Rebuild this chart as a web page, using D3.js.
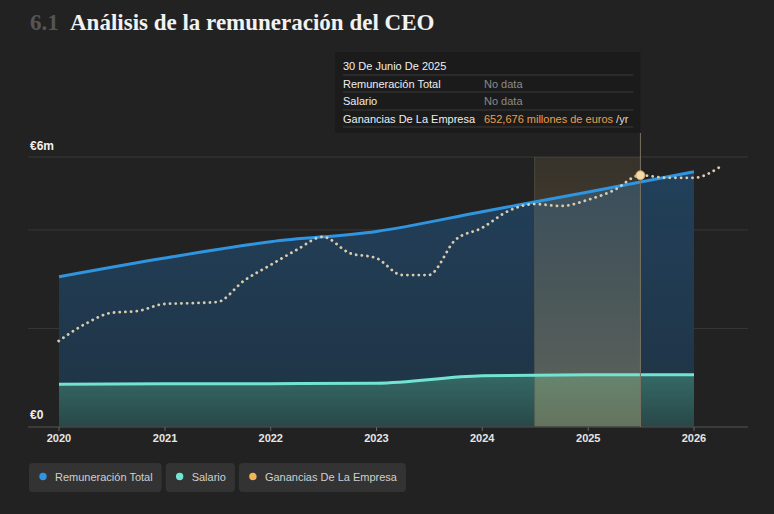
<!DOCTYPE html>
<html lang="es">
<head>
<meta charset="utf-8">
<script src="https://d3js.org/d3.v7.min.js"></script>
<style>
  body, html { margin: 0; padding: 0; background: #222222; }
  svg { display: block; font-family: 'Liberation Sans', Helvetica, sans-serif; }
</style>
</head>
<body>
<div id="chart"></div>
<script>
const width = 774;
const height = 514;

// Remuneración total / salario (millones de euros), anual
const compDates = ["2020-01-01", "2021-01-01", "2022-01-01", "2023-01-01", "2024-01-01", "2025-01-01", "2026-01-01"];
const totalComp = [3.05, 3.43, 3.76, 3.97, 4.37, 4.77, 5.18];
const salary = [0.87, 0.88, 0.88, 0.89, 1.04, 1.06, 1.06];

// Ganancias de la empresa (millones de euros /yr), trimestral
const earnDates = ["2019-12-31", "2020-03-31", "2020-06-30", "2020-09-30", "2020-12-31",
  "2021-03-31", "2021-06-30", "2021-09-30", "2021-12-31", "2022-03-31", "2022-06-30",
  "2022-09-30", "2022-12-31", "2023-03-31", "2023-06-30", "2023-09-30", "2023-12-31",
  "2024-03-31", "2024-06-30", "2024-09-30", "2024-12-31", "2025-03-31", "2025-06-30",
  "2025-09-30", "2025-12-31", "2026-03-31"];
const earnings = [223000, 267000, 296000, 301000, 319000, 321000, 324000, 379000, 420000,
  459000, 493000, 451000, 438000, 394000, 394000, 485000, 516000, 560000, 578000, 573000,
  589000, 614000, 652676, 646000, 646000, 674000];

const yTicks = [0, 2, 4];
const xTickYears = [2020, 2021, 2022, 2023, 2024, 2025, 2026];
const legendItems = ["Remuneración Total", "Salario", "Ganancias De La Empresa"];
const legendColors = ["#2f95e0", "#72e5d2", "#f0b45a"];

const parse = d3.utcParse("%Y-%m-%d");
const comp = compDates.map((d, i) => ({ date: parse(d), total: totalComp[i], salary: salary[i] }));
const earn = earnDates.map((d, i) => ({ date: parse(d), value: earnings[i] }));
const hoverIndex = 22; // 30 de junio de 2025

const x = d3.scaleUtc()
    .domain([parse("2020-01-01"), parse("2026-01-01")])
    .range([59, 694]);
const y = d3.scaleLinear().domain([0, 5.48]).range([427, 157]);
const y2 = d3.scaleLinear().domain([0, 700000]).range([427, 157]);

const svg = d3.select("#chart").append("svg")
    .attr("width", width)
    .attr("height", height);

const defs = svg.append("defs");
function vGrad(id, stops) {
  const g = defs.append("linearGradient").attr("id", id)
      .attr("x1", 0).attr("x2", 0).attr("y1", 0).attr("y2", 1);
  stops.forEach(s => g.append("stop").attr("offset", s[0]).attr("stop-color", s[1]).attr("stop-opacity", s[2]));
}
vGrad("blueGrad", [["0%", "#22405a", 1], ["100%", "#1f3344", 1]]);
vGrad("tealGrad", [["0%", "#356966", 1], ["100%", "#284847", 1]]);
vGrad("bandGrad", [["0%", "#f0c070", 0.1], ["100%", "#f4d890", 0.3]]);

// title
const title = svg.append("text").attr("y", 30)
    .style("font-family", "'Liberation Serif', 'DejaVu Serif', serif")
    .style("font-size", "23px").style("font-weight", "bold");
title.append("tspan").attr("x", 30).attr("fill", "#555").text("6.1");
title.append("tspan").attr("x", 70).attr("fill", "#f2f2f2").text("Análisis de la remuneración del CEO");

// gridlines
svg.append("g").selectAll("line")
  .data(yTicks.slice(1).concat([y.domain()[1]]))
  .join("line")
    .attr("x1", 28).attr("x2", 748)
    .attr("y1", d => y(d)).attr("y2", d => y(d))
    .attr("stroke", "#383838").attr("stroke-width", 1);

// areas
const areaTotal = d3.area().x(d => x(d.date)).y0(y(0)).y1(d => y(d.total)).curve(d3.curveMonotoneX);
const areaSalary = d3.area().x(d => x(d.date)).y0(y(0)).y1(d => y(d.salary)).curve(d3.curveMonotoneX);
svg.append("path").datum(comp).attr("d", areaTotal).attr("fill", "url(#blueGrad)");
svg.append("path").datum(comp).attr("d", areaSalary).attr("fill", "url(#tealGrad)");

// highlight band (Jun 2024 - Jun 2025)
const bandX0 = x(parse("2024-06-30"));
const bandX1 = x(parse(earnDates[hoverIndex]));
svg.append("rect")
    .attr("x", bandX0).attr("y", y(y.domain()[1]))
    .attr("width", bandX1 - bandX0).attr("height", y(0) - y(y.domain()[1]))
    .attr("fill", "url(#bandGrad)");
svg.append("line")
    .attr("x1", bandX0).attr("x2", bandX0)
    .attr("y1", y(y.domain()[1])).attr("y2", y(0))
    .attr("stroke", "#6a6658").attr("stroke-opacity", 0.5);

// axis baseline + ticks
svg.append("line").attr("x1", 28).attr("x2", 748).attr("y1", y(0)).attr("y2", y(0))
    .attr("stroke", "#444").attr("stroke-width", 1.5);
const xAxis = svg.append("g");
xTickYears.forEach(yr => {
  const px = x(Date.UTC(yr, 0, 1));
  xAxis.append("line").attr("x1", px).attr("x2", px).attr("y1", y(0)).attr("y2", y(0) + 4)
      .attr("stroke", "#666");
  xAxis.append("text").attr("x", px).attr("y", 442).attr("text-anchor", "middle")
      .attr("fill", "#e6e6e6").style("font-size", "11px").style("font-weight", "bold").text(yr);
});

// y labels
svg.append("text").attr("x", 30).attr("y", 150).attr("fill", "#f0f0f0")
    .style("font-size", "12px").style("font-weight", "bold").text("€6m");
svg.append("text").attr("x", 30).attr("y", 419).attr("fill", "#f0f0f0")
    .style("font-size", "12px").style("font-weight", "bold").text("€0");

// lines
const lineTotal = d3.line().x(d => x(d.date)).y(d => y(d.total)).curve(d3.curveMonotoneX);
const lineSalary = d3.line().x(d => x(d.date)).y(d => y(d.salary)).curve(d3.curveMonotoneX);
const lineEarn = d3.line().x(d => x(d.date)).y(d => y2(d.value)).curve(d3.curveMonotoneX);

svg.append("path").datum(comp).attr("d", lineSalary)
    .attr("fill", "none").attr("stroke", "#72e5d2").attr("stroke-width", 3);
svg.append("path").datum(comp).attr("d", lineTotal)
    .attr("fill", "none").attr("stroke", "#2f95e0").attr("stroke-width", 3);
svg.append("path").datum(earn).attr("d", lineEarn)
    .attr("fill", "none").attr("stroke", "#d8ccb0").attr("stroke-width", 2.8)
    .attr("stroke-linecap", "round").attr("stroke-dasharray", "0.1 5.6");

// hover line + point
const hp = earn[hoverIndex];
svg.append("line")
    .attr("x1", x(hp.date)).attr("x2", x(hp.date))
    .attr("y1", 133).attr("y2", y(0))
    .attr("stroke", "#7a735f").attr("stroke-width", 1);
svg.append("circle")
    .attr("cx", x(hp.date)).attr("cy", y2(hp.value)).attr("r", 4.5)
    .attr("fill", "#f6d9a6").attr("stroke", "#c9a46a").attr("stroke-width", 1);

// tooltip
const tip = svg.append("g").attr("transform", "translate(335,52)");
tip.append("rect").attr("width", x(hp.date) - 335).attr("height", 81).attr("fill", "#1b1b1b");
[23, 40, 58, 75].forEach(ly => tip.append("line")
    .attr("x1", 8).attr("x2", x(hp.date) - 335 - 7).attr("y1", ly).attr("y2", ly)
    .attr("stroke", "#3a3a3a"));
tip.append("text").attr("x", 8).attr("y", 18).attr("fill", "#f0f0f0")
    .style("font-size", "11px").text("30 De Junio De 2025");
const rows = [
  ["Remuneración Total", "No data"],
  ["Salario", "No data"],
  ["Ganancias De La Empresa", d3.format(",")(hp.value) + " millones de euros"]
];
rows.forEach((r, i) => {
  const ty = 35.5 + i * 17.5;
  tip.append("text").attr("x", 8).attr("y", ty).attr("fill", "#eeeeee")
      .style("font-size", "11px").text(r[0]);
  const v = tip.append("text").attr("x", 149).attr("y", ty)
      .style("font-size", "11px");
  if (i < 2) {
    v.attr("fill", "#8a8a8a").text(r[1]);
  } else {
    v.append("tspan").attr("fill", "#ec9f4e").text(r[1]);
    v.append("tspan").attr("fill", "#dddddd").text(" /yr");
  }
});

// legend
let lx = 29;
legendItems.forEach((name, i) => {
  const g = svg.append("g").attr("transform", `translate(${lx},463)`);
  const rect = g.append("rect").attr("height", 29).attr("rx", 4).attr("fill", "#333333");
  g.append("circle").attr("cx", 14).attr("cy", 13.5).attr("r", 3.7).attr("fill", legendColors[i]);
  const t = g.append("text").attr("x", 26).attr("y", 17.5).attr("fill", "#cfcfcf")
      .style("font-size", "11px").text(name);
  const w = t.node().getComputedTextLength() + 35;
  rect.attr("width", w);
  lx += w + 4;
});
</script>
</body>
</html>
